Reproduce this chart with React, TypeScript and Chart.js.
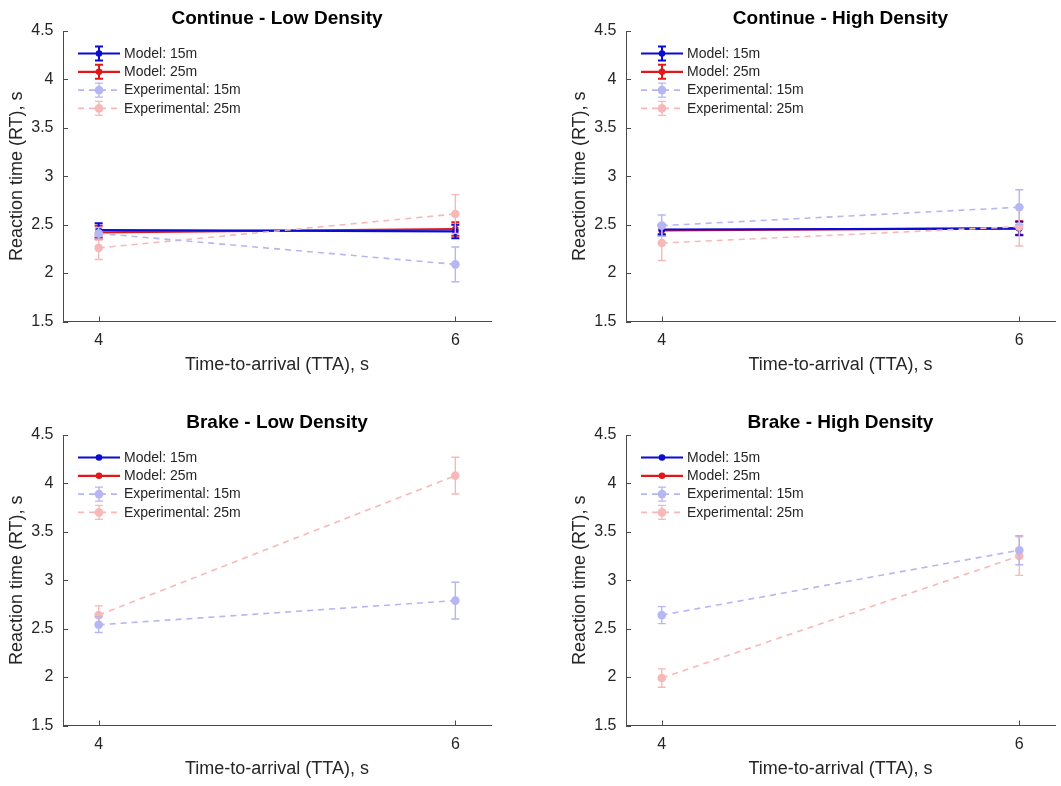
import React, { useEffect, useRef } from "react";
import { Chart, registerables } from "chart.js";

Chart.register(...registerables);

// ---------- data ----------
const TTA = [4, 6];
const X_TICKS = [4, 6];
const Y_TICKS = [1.5, 2, 2.5, 3, 3.5, 4, 4.5];
const SERIES_LABELS = ["Model: 15m", "Model: 25m", "Experimental: 15m", "Experimental: 25m"];
const PANEL_TITLES = [
  "Continue - Low Density",
  "Continue - High Density",
  "Brake - Low Density",
  "Brake - High Density",
];
const X_TITLE = "Time-to-arrival (TTA), s";
const Y_TITLE = "Reaction time (RT), s";

// Continue - Low Density
const contLowModel15 = [2.445, 2.43];
const contLowModel15Err = [0.07, 0.07];
const contLowModel25 = [2.42, 2.455];
const contLowModel25Err = [0.07, 0.07];
const contLowExp15 = [2.41, 2.09];
const contLowExp15Err = [0.06, 0.18];
const contLowExp25 = [2.26, 2.61];
const contLowExp25Err = [0.12, 0.2];

// Continue - High Density
const contHighModel15 = [2.45, 2.46];
const contHighModel15Err = [0.05, 0.07];
const contHighModel25 = [2.44, 2.465];
const contHighModel25Err = [0.05, 0.07];
const contHighExp15 = [2.49, 2.68];
const contHighExp15Err = [0.11, 0.18];
const contHighExp25 = [2.31, 2.48];
const contHighExp25Err = [0.18, 0.2];

// Brake - Low Density (no model values)
const brakeLowExp15 = [2.54, 2.79];
const brakeLowExp15Err = [0.08, 0.19];
const brakeLowExp25 = [2.64, 4.08];
const brakeLowExp25Err = [0.095, 0.19];

// Brake - High Density (no model values)
const brakeHighExp15 = [2.64, 3.31];
const brakeHighExp15Err = [0.088, 0.15];
const brakeHighExp25 = [1.99, 3.25];
const brakeHighExp25Err = [0.095, 0.2];

// ---------- styles ----------
const FONT = '"Liberation Sans", Arial, Helvetica, sans-serif';
const COLORS = ["#0b0bd2", "#e01818", "#b6b6f2", "#f6b8b8"];
const AXIS_COLOR = "#4a4a4a";
const TEXT_COLOR = "#262626";

type Series = { values: number[] | null; errors: number[] | null };

function buildDatasets(series: Series[]) {
  return series.map((s, i) => {
    const model = i < 2;
    return {
      label: SERIES_LABELS[i],
      data: s.values ? s.values.map((v, k) => ({ x: TTA[k], y: v })) : [],
      errorBars: s.errors,
      borderColor: COLORS[i],
      backgroundColor: COLORS[i],
      pointBackgroundColor: COLORS[i],
      pointBorderColor: COLORS[i],
      pointBorderWidth: 0,
      pointRadius: model ? 3.3 : 4.3,
      borderWidth: model ? 2.2 : 1.6,
      borderDash: model ? [] : [6, 5],
      tension: 0,
      fill: false,
      order: model ? 1 : 0,
      errWidth: model ? 2 : 1.4,
      legendHasErr: !!s.errors,
    };
  });
}

function drawErrBar(ctx: CanvasRenderingContext2D, x: number, yTop: number, yBot: number, cap: number) {
  ctx.beginPath();
  ctx.moveTo(x, yTop);
  ctx.lineTo(x, yBot);
  ctx.moveTo(x - cap, yTop);
  ctx.lineTo(x + cap, yTop);
  ctx.moveTo(x - cap, yBot);
  ctx.lineTo(x + cap, yBot);
  ctx.stroke();
}

const errorBarPlugin = {
  id: "errorBars",
  afterDatasetDraw(chart: any, args: any) {
    const ds: any = chart.data.datasets[args.index];
    if (!ds.errorBars) return;
    const { ctx } = chart;
    const yScale = chart.scales.y;
    ctx.save();
    ctx.strokeStyle = ds.borderColor;
    ctx.lineWidth = ds.errWidth;
    ctx.setLineDash([]);
    args.meta.data.forEach((el: any, k: number) => {
      const v = ds.data[k].y;
      const e = ds.errorBars[k];
      drawErrBar(ctx, el.x, yScale.getPixelForValue(v + e), yScale.getPixelForValue(v - e), 4);
    });
    ctx.restore();
  },
};

const inwardTicksPlugin = {
  id: "inwardTicks",
  afterDraw(chart: any) {
    const { ctx, chartArea, scales } = chart;
    ctx.save();
    ctx.strokeStyle = AXIS_COLOR;
    ctx.lineWidth = 1;
    ctx.beginPath();
    scales.y.ticks.forEach((t: any) => {
      const y = Math.round(scales.y.getPixelForValue(t.value)) + 0.5;
      ctx.moveTo(chartArea.left, y);
      ctx.lineTo(chartArea.left + 5, y);
    });
    scales.x.ticks.forEach((t: any) => {
      const x = Math.round(scales.x.getPixelForValue(t.value)) + 0.5;
      ctx.moveTo(x, chartArea.bottom);
      ctx.lineTo(x, chartArea.bottom - 5);
    });
    ctx.stroke();
    ctx.restore();
  },
};

const insideLegendPlugin = {
  id: "insideLegend",
  afterDraw(chart: any) {
    const { ctx, chartArea } = chart;
    const x0 = chartArea.left + 15;
    const lineLen = 42;
    const y0 = chartArea.top + 22.5;
    const dy = 18.3;
    chart.data.datasets.forEach((ds: any, i: number) => {
      const y = y0 + i * dy;
      ctx.save();
      ctx.strokeStyle = ds.borderColor;
      ctx.lineWidth = ds.borderWidth;
      ctx.setLineDash(ds.borderDash || []);
      ctx.beginPath();
      ctx.moveTo(x0, y);
      ctx.lineTo(x0 + lineLen, y);
      ctx.stroke();
      ctx.setLineDash([]);
      const cx = x0 + lineLen / 2;
      if (ds.legendHasErr) {
        ctx.lineWidth = ds.errWidth;
        drawErrBar(ctx, cx, y - 7, y + 7, 4);
      }
      ctx.fillStyle = ds.borderColor;
      ctx.beginPath();
      ctx.arc(cx, y, ds.pointRadius, 0, Math.PI * 2);
      ctx.fill();
      ctx.fillStyle = TEXT_COLOR;
      ctx.font = `14px ${FONT}`;
      ctx.textBaseline = "middle";
      ctx.textAlign = "left";
      ctx.fillText(ds.label, x0 + lineLen + 4, y + 0.5);
      ctx.restore();
    });
  },
};

type PanelProps = {
  title: string;
  series: Series[];
  left: number;
  top: number;
  width: number;
  height: number;
  padRight: number;
};

function Panel({ title, series, left, top, width, height, padRight }: PanelProps) {
  const ref = useRef<HTMLCanvasElement>(null);
  useEffect(() => {
    const chart = new Chart(ref.current as HTMLCanvasElement, {
      type: "line",
      data: { datasets: buildDatasets(series) as any },
      options: {
        animation: false,
        responsive: false,
        events: [],
        layout: { padding: { left: 0, right: padRight, top: 0, bottom: 0 } },
        plugins: {
          legend: { display: false },
          tooltip: { enabled: false },
          title: {
            display: true,
            text: title,
            fullSize: false,
            color: "#000000",
            font: { family: FONT, size: 19, weight: "bold", lineHeight: 1.2 },
            padding: { top: 7, bottom: 1.2 },
          },
        },
        scales: {
          x: {
            type: "linear",
            min: 3.8,
            max: 6.2,
            afterBuildTicks: (s: any) => {
              s.ticks = X_TICKS.map((v) => ({ value: v }));
            },
            afterFit: (s: any) => {
              s.height = 71.5;
            },
            grid: { display: false, drawTicks: false, tickLength: 0 },
            border: { display: true, color: AXIS_COLOR, width: 1 },
            ticks: {
              color: TEXT_COLOR,
              font: { family: FONT, size: 16, lineHeight: 1.2 },
              padding: 9,
              callback: (v: any) => String(v),
            },
            title: {
              display: true,
              text: X_TITLE,
              color: TEXT_COLOR,
              font: { family: FONT, size: 18, lineHeight: 1.2 },
              padding: { top: 0, bottom: 17 },
            },
          },
          y: {
            type: "linear",
            min: 1.5,
            max: 4.5,
            afterBuildTicks: (s: any) => {
              s.ticks = Y_TICKS.map((v) => ({ value: v }));
            },
            afterFit: (s: any) => {
              s.width = 63;
            },
            grid: { display: false, drawTicks: false, tickLength: 0 },
            border: { display: true, color: AXIS_COLOR, width: 1 },
            ticks: {
              color: TEXT_COLOR,
              font: { family: FONT, size: 16, lineHeight: 1.2 },
              padding: 9.5,
              callback: (v: any) => String(v),
            },
            title: {
              display: true,
              text: Y_TITLE,
              color: TEXT_COLOR,
              font: { family: FONT, size: 18, lineHeight: 1.2 },
              padding: { top: 6, bottom: 0 },
            },
          },
        },
      } as any,
      plugins: [errorBarPlugin, inwardTicksPlugin, insideLegendPlugin],
    });
    return () => chart.destroy();
  }, []);
  return (
    <canvas
      ref={ref}
      width={width}
      height={height}
      style={{ position: "absolute", left, top, width, height }}
    />
  );
}

export default function App() {
  const panels: PanelProps[] = [
    {
      title: PANEL_TITLES[0],
      series: [
        { values: contLowModel15, errors: contLowModel15Err },
        { values: contLowModel25, errors: contLowModel25Err },
        { values: contLowExp15, errors: contLowExp15Err },
        { values: contLowExp25, errors: contLowExp25Err },
      ],
      left: 0, top: 0, width: 530, height: 393, padRight: 39,
    },
    {
      title: PANEL_TITLES[1],
      series: [
        { values: contHighModel15, errors: contHighModel15Err },
        { values: contHighModel25, errors: contHighModel25Err },
        { values: contHighExp15, errors: contHighExp15Err },
        { values: contHighExp25, errors: contHighExp25Err },
      ],
      left: 563, top: 0, width: 498, height: 393, padRight: 6,
    },
    {
      title: PANEL_TITLES[2],
      series: [
        { values: null, errors: null },
        { values: null, errors: null },
        { values: brakeLowExp15, errors: brakeLowExp15Err },
        { values: brakeLowExp25, errors: brakeLowExp25Err },
      ],
      left: 0, top: 404, width: 530, height: 393, padRight: 39,
    },
    {
      title: PANEL_TITLES[3],
      series: [
        { values: null, errors: null },
        { values: null, errors: null },
        { values: brakeHighExp15, errors: brakeHighExp15Err },
        { values: brakeHighExp25, errors: brakeHighExp25Err },
      ],
      left: 563, top: 404, width: 498, height: 393, padRight: 6,
    },
  ];
  return (
    <div
      style={{
        position: "absolute",
        left: 0,
        top: 0,
        width: 1061,
        height: 786,
        overflow: "hidden",
        background: "#ffffff",
      }}
    >
      {panels.map((p, i) => (
        <Panel key={i} {...p} />
      ))}
    </div>
  );
}
